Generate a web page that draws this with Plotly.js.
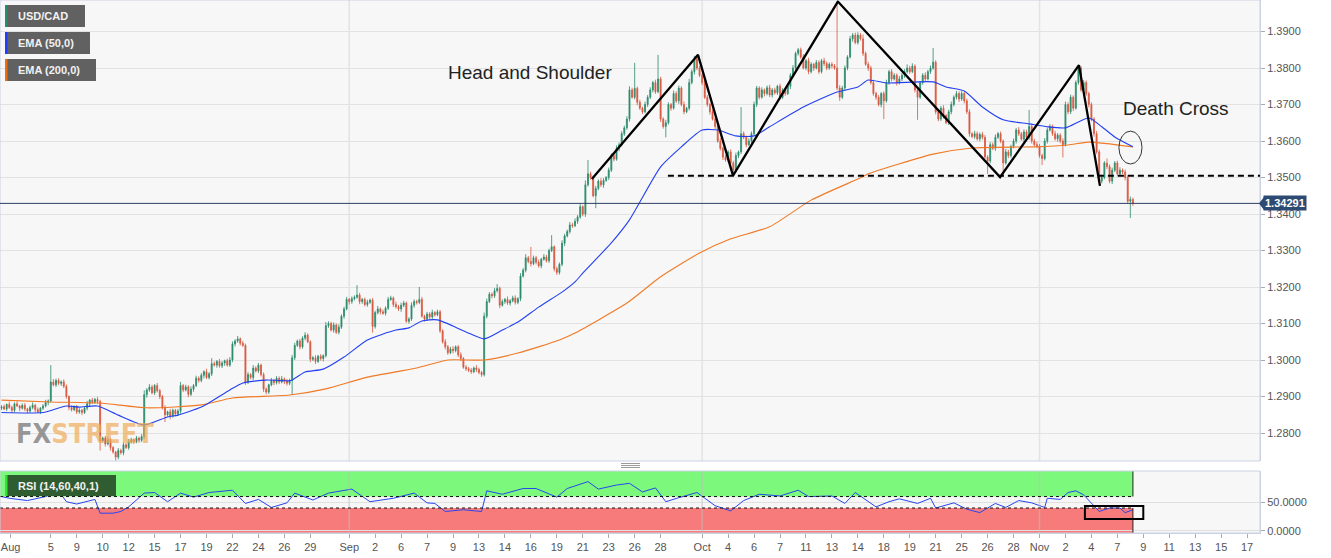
<!DOCTYPE html>
<html><head><meta charset="utf-8">
<script src="https://cdn.plot.ly/plotly-3.0.1.min.js"></script>
<style>html,body{margin:0;padding:0;background:#fff;}#chart{width:1331px;height:558px;}</style>
</head><body><div id="chart"></div>
<script>
// ---- DATA (prices in pips above 1.0000, 4H candles, index = candle number) ----
const firstOpenPips = 2868;
const closePips = [
2872,2866,2878,2870,2862,2880,2874,2868,2876,2866,
2860,2870,2876,2864,2858,2868,2874,2884,2888,2940,
2932,2944,2936,2940,2928,2900,2870,2864,2872,2858,
2862,2856,2868,2880,2890,2884,2892,2886,2778,2786,
2770,2782,2760,2748,2734,2752,2746,2768,2760,2776,
2782,2776,2786,2780,2790,2905,2918,2926,2910,2930,
2916,2900,2870,2850,2858,2846,2862,2852,2860,2930,
2918,2926,2906,2920,2930,2950,2944,2958,2968,2952,
2962,2990,2986,2996,2984,2992,2998,2986,3000,3044,
3052,3058,3046,3040,2940,2960,2952,2978,2970,2986,
2960,2920,2912,2932,2944,2938,2950,2940,2948,2942,
2936,2944,3006,3040,3052,3036,3060,3068,3050,3002,
3006,2996,3010,3004,3012,3094,3100,3082,3096,3076,
3090,3120,3140,3166,3160,3168,3172,3178,3160,3166,
3152,3158,3164,3092,3130,3140,3132,3128,3142,3166,
3170,3152,3146,3140,3150,3156,3106,3112,3150,3160,
3158,3166,3120,3112,3126,3118,3130,3124,3132,3080,
3050,3036,3020,3030,3026,3036,3014,3004,2980,2976,
2972,2968,2978,2974,2966,2960,3120,3160,3180,3176,
3190,3196,3150,3160,3166,3156,3162,3170,3158,3168,
3230,3246,3280,3270,3264,3280,3268,3258,3276,3282,
3272,3300,3310,3250,3240,3262,3320,3340,3352,3370,
3368,3380,3392,3420,3400,3480,3510,3500,3450,3470,
3490,3480,3492,3500,3520,3560,3550,3580,3590,3620,
3636,3660,3740,3720,3744,3706,3690,3680,3700,3720,
3740,3760,3735,3770,3660,3640,3650,3700,3690,3730,
3710,3745,3700,3680,3690,3760,3790,3825,3800,3780,
3760,3720,3700,3680,3660,3640,3600,3580,3556,3548,
3570,3540,3520,3560,3570,3620,3610,3590,3600,3620,
3700,3745,3720,3740,3730,3746,3726,3740,3732,3750,
3720,3740,3730,3750,3780,3800,3840,3850,3830,3800,
3820,3790,3810,3800,3815,3790,3820,3812,3800,3810,
3806,3800,3745,3720,3745,3800,3830,3880,3890,3870,
3890,3880,3840,3810,3800,3760,3730,3720,3700,3730,
3710,3760,3790,3770,3780,3760,3770,3780,3790,3800,
3790,3805,3740,3720,3760,3780,3770,3790,3800,3816,
3680,3660,3690,3670,3650,3680,3700,3720,3730,3715,
3730,3710,3680,3620,3612,3620,3606,3618,3610,3556,
3545,3590,3580,3610,3620,3600,3540,3570,3560,3585,
3600,3630,3620,3605,3625,3610,3640,3600,3590,3586,
3560,3552,3600,3630,3640,3620,3606,3616,3600,3590,
3700,3680,3720,3690,3760,3800,3740,3760,3730,3700,
3660,3620,3570,3490,3500,3540,3530,3490,3520,3540,
3510,3520,3515,3500,3435,3440,3429];
const wickUpPips = [
4,6,3,8,5,4,7,3,5,6, 3,5,8,4,6,3,5,7,4,46, 8,5,6,4,7,5,3,6,4,5, 6,4,5,8,3,6,4,7,5,4,
6,8,5,4,3,7,5,6,4,8, 5,3,6,4,7,12,5,8,6,4, 7,5,4,6,3,8,5,4,6,10, 4,6,5,8,4,7,5,6,4,8,
5,15,6,4,7,5,3,6,8,7, 5,8,4,6,5,7,4,8,5,6, 4,6,5,3,7,4,6,5,8,4, 6,5,8,7,4,6,5,8,5,4,
5,7,4,6,3,10,6,5,7,4, 8,5,6,7,4,6,5,27,6,4, 5,7,4,6,5,8,4,6,5,7, 6,4,8,5,7,6,4,5,8,6,
5,34,7,4,6,5,8,4,6,5, 4,7,5,6,8,4,5,7,4,6, 5,6,4,8,5,4,10,8,6,5, 7,12,5,6,4,8,5,6,7,4,
8,6,10,5,40,6,5,7,4,8, 6,5,32,4,6,5,8,6,5,8, 6,8,5,7,4,12,38,6,5,7, 5,8,6,4,7,6,5,8,6,7,
6,8,10,6,70,5,7,4,8,6, 7,5,8,66,6,5,8,6,4,8, 6,7,5,8,4,10,6,8,11,6, 5,8,6,4,7,5,6,8,4,6,
5,7,6,8,4,73,6,5,7,6, 8,6,5,7,4,6,8,5,6,4, 7,5,6,8,6,8,5,5,6,8, 5,8,6,4,7,6,5,8,6,5,
6,5,181,8,6,7,5,8,6,7, 8,6,12,5,7,6,8,5,6,4, 6,8,5,7,6,5,8,6,7,10, 6,8,5,7,4,6,8,5,7,39,
5,7,6,8,4,6,8,5,7,6, 8,5,6,7,4,8,6,5,7,6, 5,7,6,8,5,6,4,8,6,5, 7,6,8,5,7,6,45,5,6,8,
6,5,8,7,6,5,8,6,5,7, 8,6,7,5,6,8,5,7,6,5, 6,5,7,6,8,5,12,6,7,5, 6,8,5,7,6,8,5];
const wickDownPips = [
5,3,6,4,7,5,3,8,4,6, 6,4,5,7,3,6,5,4,8,5, 4,6,5,7,5,6,8,5,4,6, 5,7,4,6,8,5,4,6,26,5,
7,4,8,5,10,6,5,7,4,6, 5,6,4,7,5,6,8,5,4,6, 5,7,6,20,5,8,4,6,5,7, 6,4,8,5,7,4,6,5,8,4,
5,6,4,7,5,6,8,4,5,6, 7,5,6,4,8,6,5,7,4,6, 5,8,6,5,4,7,5,6,4,8, 6,5,40,6,4,7,5,6,4,8,
5,7,4,6,8,5,6,4,7,5, 6,5,7,4,8,6,5,4,7,6, 5,6,4,17,6,5,7,4,6,5, 4,7,5,6,8,5,4,6,5,7,
6,5,4,7,5,6,8,5,4,6, 5,7,6,4,8,5,6,7,4,6, 5,6,4,7,5,6,5,6,4,7, 6,5,8,4,6,5,7,4,6,5,
7,4,6,5,8,4,6,5,7,4, 5,6,4,7,7,6,5,8,4,6, 6,4,7,5,6,8,5,6,4,34, 5,6,8,4,7,5,6,4,8,5,
6,5,7,4,6,8,5,6,4,7, 5,7,6,4,8,6,30,5,7,4, 6,8,5,7,4,6,5,8,6,5, 7,5,6,8,4,7,5,6,8,5,
6,4,8,5,7,6,5,7,4,6, 5,7,6,4,8,5,6,7,5,6, 7,5,6,4,8,5,7,6,5,4, 6,7,5,8,4,6,5,7,6,5,
7,5,6,10,5,7,6,4,8,5, 6,5,7,4,8,5,6,7,5,8, 50,5,6,7,4,8,5,6,7,5, 6,4,7,62,5,6,8,4,6,5,
7,6,5,8,4,6,7,5,6,8, 5,7,6,8,4,6,5,7,6,5, 35,6,5,7,4,6,38,5,7,6, 5,7,6,4,8,5,6,7,5,6,
6,18,5,7,4,6,5,8,6,35, 5,7,6,8,4,6,5,7,6,8, 6,8,5,7,6,5,7,6,8,5, 7,5,6,8,6,46,7];

const ema50Idx  = [0,16,25,30,37,45,55,64,68,77,88,93,102,111,112,117,124,132,141,152,157,162,168,179,186,193,199,207,216,221,224,235,242,254,262,270,276,283,290,296,309,322,330,334,341,359,364,371,378,386,396,403,410,419,424,429,436];
const ema50Pips = [2856,2856,2874,2871,2874,2849,2822,2844,2849,2871,2918,2937,2945,2943,2945,2967,2975,3008,3055,3082,3088,3107,3110,3077,3058,3082,3104,3145,3186,3214,3238,3321,3384,3529,3584,3630,3630,3614,3614,3639,3693,3734,3748,3767,3759,3762,3748,3737,3693,3658,3647,3639,3636,3663,3639,3611,3584];
const ema200Idx  = [0,19,38,56,77,89,111,125,141,160,172,186,199,215,221,241,254,269,281,296,312,331,334,359,374,398,411,419,436];
const ema200Pips = [2890,2885,2882,2869,2877,2896,2904,2921,2953,2978,3000,3000,3019,3055,3074,3156,3228,3293,3332,3365,3438,3499,3510,3564,3581,3584,3589,3597,3584];

const rsiIdx = [0,3,10,17,22,25,29,36,38,43,46,49,55,59,64,69,74,80,89,94,99,104,110,113,120,126,135,142,151,159,164,167,171,178,185,187,193,201,206,214,218,226,230,237,242,247,252,256,261,268,275,281,286,292,300,307,311,320,325,329,337,342,346,353,358,360,367,372,377,383,387,392,397,402,403,408,411,414,417,420,423,427,431,433,436];
const rsiValues = [60,57,53,60,70,51,47,55,31,31,34,42,66,67,51,66,59,67,71,48,55,41,49,66,54,66,73,51,57,66,49,48,34,37,34,70,64,74,74,59,74,86,73,80,83,68,75,51,58,67,44,35,53,64,61,71,60,61,48,67,42,51,56,48,57,40,49,38,32,48,41,53,49,41,57,55,67,70,63,48,34,40,40,32,37];

const tickIdx = [3.5,19,29,39,49,59,69,79,89,99,109,119,134,144,154,164,174,184,194,204,214,224,234,244,254,270,280,290,300,310,320,330,340,350,360,370,380,390,400,410,420,430,440,450,460,470,480];
const tickLabels = ["Aug","5","9","10","12","15","17","19","22","24","26","29","Sep","2","6","7","9","13","14","16","19","21","23","26","28","Oct","4","6","7","11","13","14","18","19","21","25","26","28","Nov","2","4","7","9","11","13","15","17"];
const monthLabels = ["Aug","Sep","Oct","Nov"];

const lastPrice = 1.34291;
const necklinePips = 3505;
const patternIdx  = [227.5,268.4,281.9,322.3,384.8,415.2,423.3];
const patternPips = [3496,3836,3505,3982,3501,3808,3477];
const rsiOver = 60, rsiUnder = 40;

// ---- BUILD ----
const toP = p => 1 + p/10000;
const N = closePips.length;
const xs = closePips.map((_, i) => i);
const close = closePips.map(toP);
const open = close.map((c, i) => i === 0 ? toP(firstOpenPips) : close[i-1]);
const high = close.map((c, i) => Math.max(open[i], c) + wickUpPips[i]/10000);
const low  = close.map((c, i) => Math.min(open[i], c) - wickDownPips[i]/10000);

const W=1331, H=558, ML=0, MR=71, MT=0, MB=25;
const PW=W-ML-MR, PH=H-MT-MB;
const pxX = v => (v-ML)/PW;
const pxY = v => (H-MB-v)/PH;
const XR = [-0.578, 484.97];
const YR = [1.272329, 1.398630];
const Y2R = [-3.5, 104.5];
const font = "Liberation Sans, Arial, sans-serif";
const GREEN = '#2a8a6b', RED = '#d9573f';

const traces = [
  {type:'candlestick', x:xs, open, high, low, close, xaxis:'x', yaxis:'y',
   increasing:{line:{color:GREEN,width:0.8}, fillcolor:GREEN},
   decreasing:{line:{color:RED,width:0.8}, fillcolor:RED},
   whiskerwidth:0, hoverinfo:'skip', showlegend:false},
  {type:'scatter', mode:'lines', x:ema200Idx, y:ema200Pips.map(toP), yaxis:'y',
   line:{color:'#f07a26', width:1.1, shape:'spline', smoothing:0.6}, hoverinfo:'skip', showlegend:false},
  {type:'scatter', mode:'lines', x:ema50Idx, y:ema50Pips.map(toP), yaxis:'y',
   line:{color:'#2340f0', width:1.1, shape:'spline', smoothing:0.6}, hoverinfo:'skip', showlegend:false},
  {type:'scatter', mode:'lines', x:patternIdx, y:patternPips.map(toP), yaxis:'y',
   line:{color:'#000', width:2.3}, hoverinfo:'skip', showlegend:false},
  {type:'scatter', mode:'lines', x:rsiIdx, y:rsiValues, yaxis:'y2',
   line:{color:'#2746ee', width:1}, hoverinfo:'skip', showlegend:false}
];

const shapes = [];
// month separators
tickIdx.forEach((k, i) => {
  if (monthLabels.includes(tickLabels[i]) && tickLabels[i] !== 'Aug') {
    shapes.push({type:'line', xref:'x', yref:'y domain', x0:k, x1:k, y0:0, y1:1, line:{color:'#e3e3e3', width:1.5}, layer:'below'});
    shapes.push({type:'line', xref:'x', yref:'y2 domain', x0:k, x1:k, y0:0, y1:1, line:{color:'rgba(190,190,190,0.55)', width:1.5}, layer:'above'});
  }
});
// RSI bands
shapes.push({type:'rect', xref:'x', yref:'y2', x0:XR[0], x1:N-1, y0:rsiOver, y1:Y2R[1], fillcolor:'#7cf97c', line:{width:0}, layer:'below'});
shapes.push({type:'rect', xref:'x', yref:'y2', x0:XR[0], x1:N-1, y0:Y2R[0], y1:rsiUnder, fillcolor:'#f87b7b', line:{width:0}, layer:'below'});
shapes.push({type:'line', xref:'x', yref:'y2', x0:XR[0], x1:N-1, y0:rsiOver, y1:rsiOver, line:{color:'#111', width:1, dash:'dot'}});
shapes.push({type:'line', xref:'x', yref:'y2', x0:XR[0], x1:N-1, y0:rsiUnder, y1:rsiUnder, line:{color:'#111', width:1, dash:'dot'}});
shapes.push({type:'line', xref:'x', yref:'y2', x0:N-1, x1:N-1, y0:rsiOver, y1:Y2R[1], line:{color:'#222', width:1}});
shapes.push({type:'line', xref:'x', yref:'y2', x0:N-1, x1:N-1, y0:Y2R[0], y1:rsiUnder, line:{color:'#222', width:1}});
// RSI highlight box
shapes.push({type:'rect', xref:'x', yref:'y2', x0:417.5, x1:440, y0:20.9, y1:43.6, line:{color:'#000', width:2}});
// panel borders
shapes.push({type:'rect', xref:'x domain', yref:'y domain', x0:0, x1:1, y0:0, y1:1, line:{color:'#cbd2e3', width:1}});
shapes.push({type:'rect', xref:'x domain', yref:'y2 domain', x0:0, x1:1, y0:0, y1:1, line:{color:'#cbd2e3', width:1}});
// neckline
shapes.push({type:'line', xref:'x', yref:'y', x0:256.8, x1:XR[1], y0:toP(necklinePips), y1:toP(necklinePips), line:{color:'#000', width:2, dash:'6px,4px'}});
// last price line
shapes.push({type:'line', xref:'x domain', yref:'y', x0:0, x1:1, y0:lastPrice, y1:lastPrice, line:{color:'#2c3f66', width:1}});
// death cross ellipse
shapes.push({type:'circle', xref:'x', yref:'y', x0:430.6, x1:439.5, y0:1.3537, y1:1.3627, line:{color:'#333', width:1}});
// legend boxes
const legendBoxes = [
  {y0:5, y1:27, x1:85, c:'#2a8a6b'},
  {y0:32, y1:54, x1:90, c:'#1f3cff'},
  {y0:59, y1:81, x1:96, c:'#f26a10'}
];
legendBoxes.forEach(b => {
  shapes.push({type:'rect', xref:'paper', yref:'paper', x0:pxX(5), x1:pxX(b.x1), y0:pxY(b.y1), y1:pxY(b.y0), fillcolor:'#616161', line:{width:0}});
  shapes.push({type:'rect', xref:'paper', yref:'paper', x0:pxX(5), x1:pxX(7.5), y0:pxY(b.y1), y1:pxY(b.y0), fillcolor:b.c, line:{width:0}});
});
// RSI label box
shapes.push({type:'rect', xref:'paper', yref:'paper', x0:pxX(5), x1:pxX(116), y0:pxY(496), y1:pxY(475), fillcolor:'#2f5c31', line:{width:0}});
shapes.push({type:'rect', xref:'paper', yref:'paper', x0:pxX(5), x1:pxX(7.5), y0:pxY(496), y1:pxY(475), fillcolor:'#33e033', line:{width:0}});
// panel resize handle
[463.5, 465.5, 467.5].forEach(v => shapes.push({type:'line', xref:'paper', yref:'paper', x0:pxX(621), x1:pxX(640), y0:pxY(v), y1:pxY(v), line:{color:'#9a9a9a', width:1}}));
// price label pointer
shapes.push({type:'path', xref:'paper', yref:'paper', path:
  'M '+pxX(1259)+','+pxY(203.4)+' L '+pxX(1264)+','+pxY(197)+' L '+pxX(1264)+','+pxY(210)+' Z', fillcolor:'#2c4a72', line:{width:0}});

const legendTexts = [['USD/CAD',16],['EMA (50,0)',43],['EMA (200,0)',70]];
const annotations = legendTexts.map(([t, yc]) => ({
  text:'<b>'+t+'</b>', xref:'paper', yref:'paper', x:pxX(16), y:pxY(yc), xanchor:'left', yanchor:'middle',
  showarrow:false, font:{family:font, size:11, color:'#f2f2f2'}
}));
annotations.push({text:'<b>RSI (14,60,40,1)</b>', xref:'paper', yref:'paper', x:pxX(16), y:pxY(485.5), xanchor:'left', yanchor:'middle', showarrow:false, font:{family:font, size:11, color:'#f2f2f2'}});
annotations.push({text:'Head and Shoulder', xref:'x', yref:'y', x:203.7, y:1.3789, xanchor:'center', yanchor:'middle', showarrow:false, font:{family:font, size:19, color:'#222'}});
annotations.push({text:'Death Cross', xref:'x', yref:'y', x:452.6, y:1.3690, xanchor:'center', yanchor:'middle', showarrow:false, font:{family:font, size:19, color:'#222'}});
annotations.push({text:'<b>'+lastPrice.toFixed(5)+'</b>', xref:'paper', yref:'y', x:1, y:lastPrice, xanchor:'left', yanchor:'middle', xshift:3,
  showarrow:false, bgcolor:'#2c4a72', borderpad:1, font:{family:font, size:11, color:'#fff'}});
annotations.push({text:'<b><span style="color:rgba(120,120,120,0.75)">FX</span><span style="color:rgba(240,170,90,0.7)">STREET</span></b>',
  xref:'paper', yref:'paper', x:pxX(14), y:pxY(433), xanchor:'left', yanchor:'middle', showarrow:false,
  font:{family:'Liberation Sans Narrow, DejaVu Sans Condensed, sans-serif', size:27}});

const layout = {
  width:W, height:H, margin:{l:ML, r:MR, t:MT, b:MB},
  paper_bgcolor:'#ffffff', plot_bgcolor:'#f7f7f7',
  showlegend:false, hovermode:false, boxgap:0.45,
  xaxis:{anchor:'y2', range:XR, rangeslider:{visible:false}, tickmode:'array', tickvals:tickIdx, ticktext:tickLabels,
    ticks:'outside', ticklen:4, tickcolor:'#aaa', showgrid:false, zeroline:false, showline:true, linecolor:'#cbd2e3',
    tickfont:{family:font, size:11, color:'#555'}},
  yaxis:{domain:[(H-MB-461)/PH, 1], range:YR, side:'right', anchor:'x', tick0:1.28, dtick:0.01, tickformat:'.4f',
    ticks:'outside', ticklen:4, tickcolor:'#aaa', showgrid:true, gridcolor:'#e2e2e2', gridwidth:1, zeroline:false,
    showline:true, linecolor:'#cbd2e3', tickfont:{family:font, size:11, color:'#555'}},
  yaxis2:{domain:[0, (H-MB-471)/PH], range:Y2R, side:'right', anchor:'x', tickmode:'array', tickvals:[0,50], tickformat:'.4f',
    ticks:'outside', ticklen:4, tickcolor:'#aaa', showgrid:true, gridcolor:'#e0e0e0', zeroline:false,
    showline:true, linecolor:'#cbd2e3', tickfont:{family:font, size:11, color:'#555'}},
  shapes, annotations
};

Plotly.newPlot('chart', traces, layout, {displayModeBar:false, staticPlot:true});
</script>
</body></html>
